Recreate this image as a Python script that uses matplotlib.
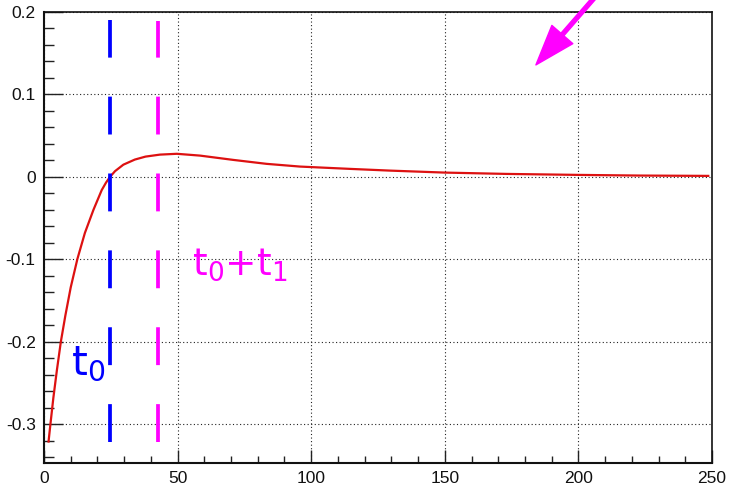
import matplotlib
matplotlib.use("Agg")
import matplotlib.pyplot as plt
from matplotlib.ticker import MultipleLocator

plt.rcParams['font.family'] = ['Liberation Sans', 'DejaVu Sans']
plt.rcParams['axes.unicode_minus'] = False

# pulse shape
pulse_x = [1.7, 2.4, 3.5, 4.8, 6.3, 8.0, 10.0, 12.5, 15.3, 18.5, 21.6, 23.2,
           24.7, 26.6, 29.7, 34.0, 38.0, 43.4, 49.7, 58.4, 70.8, 83.3, 95.8,
           114.5, 129.5, 150.0, 173.0, 200.0, 223.0, 248.6]
pulse_y = [-0.321, -0.300, -0.268, -0.235, -0.200, -0.168, -0.134, -0.0995,
           -0.068, -0.040, -0.016, -0.007, 0.0, 0.0070, 0.0148, 0.0210,
           0.0246, 0.0270, 0.0280, 0.0258, 0.0206, 0.0158, 0.0125, 0.0097,
           0.0076, 0.0052, 0.0036, 0.0024, 0.0016, 0.0012]

t0 = 24.8
t0_t1 = 42.5
marker_span = [-0.321, 0.190]

xticks = [0, 50, 100, 150, 200, 250]
xtick_labels = ['0', '50', '100', '150', '200', '250']
yticks = [-0.3, -0.2, -0.1, 0, 0.1, 0.2]
ytick_labels = ['-0.3', '-0.2', '-0.1', '0', '0.1', '0.2']

fig = plt.figure(figsize=(7.31, 4.93), dpi=100)
ax = fig.add_axes([0.0602, 0.0609, 0.9138, 0.9148])

ax.set_xlim(0, 250)
ax.set_ylim(-0.347, 0.2)

ax.grid(True, which='major', color='#222222', linestyle=(0, (1, 2.2)), linewidth=0.8)

ax.plot(pulse_x, pulse_y, color='#dd1111', linewidth=1.6, zorder=3)

# dashed markers, drawn bottom-up so the dash pattern starts at the bottom
dash = (0, (10.1, 10.4))
ax.plot([t0, t0], marker_span, color='#0000ff', linewidth=2.7, linestyle=dash, zorder=4)
ax.plot([t0_t1, t0_t1], [marker_span[0] - 0.001, marker_span[1] - 0.001],
        color='#ff00ff', linewidth=2.7, linestyle=dash, zorder=4)

ax.text(10.2, -0.240, r'$\mathregular{t_0}$', color='#0000ff', fontsize=29,
        family='DejaVu Sans')
ax.text(55.4, -0.119, r'$\mathregular{t_0}$+$\mathregular{t_1}$', color='#ff00ff',
        fontsize=27, family='DejaVu Sans')

ax.annotate('', xy=(184.1, 0.1358), xytext=(209.0, 0.2285),
            arrowprops=dict(facecolor='#ff00ff', edgecolor='#ff00ff', width=2.8,
                            headwidth=20, headlength=29, shrink=0),
            annotation_clip=False)

ax.set_xticks(xticks)
ax.set_xticklabels(xtick_labels)
ax.set_yticks(yticks)
ax.set_yticklabels(ytick_labels)
ax.xaxis.set_minor_locator(MultipleLocator(10))
ax.yaxis.set_minor_locator(MultipleLocator(0.02))

ax.tick_params(axis='both', which='both', direction='in', color='#222222',
               width=1.0, labelsize=12.5, labelcolor='#111111', pad=6)
ax.tick_params(axis='y', which='major', length=14)
ax.tick_params(axis='y', which='minor', length=7)
ax.tick_params(axis='x', which='major', length=9.7)
ax.tick_params(axis='x', which='minor', length=4.9)

for side in ['left', 'bottom']:
    ax.spines[side].set_linewidth(1.5)
for side in ['top', 'right']:
    ax.spines[side].set_linewidth(1.2)
for s in ax.spines.values():
    s.set_color('#111111')

fig.savefig('out.png', dpi=100)
